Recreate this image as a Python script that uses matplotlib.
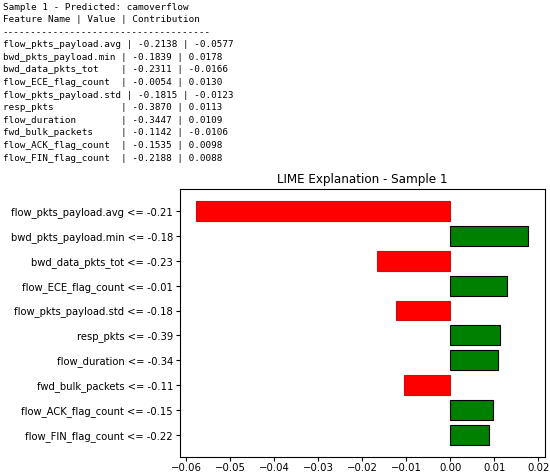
import matplotlib.pyplot as plt

# LIME output for sample 1
features = ['flow_pkts_payload.avg', 'bwd_pkts_payload.min', 'bwd_data_pkts_tot',
            'flow_ECE_flag_count', 'flow_pkts_payload.std', 'resp_pkts',
            'flow_duration', 'fwd_bulk_packets', 'flow_ACK_flag_count',
            'flow_FIN_flag_count']
values = [-0.2138, -0.1839, -0.2311, -0.0054, -0.1815, -0.3870,
          -0.3447, -0.1142, -0.1535, -0.2188]
contributions = [-0.0577, 0.0178, -0.0166, 0.0130, -0.0123, 0.0113,
                 0.0109, -0.0106, 0.0098, 0.0088]
thresholds = [-0.21, -0.18, -0.23, -0.01, -0.18, -0.39, -0.34, -0.11, -0.15, -0.22]

fig = plt.figure(figsize=(5.5, 4.76), dpi=100)

# printed console output on top
lines = ['Sample 1 - Predicted: camoverflow',
         'Feature Name | Value | Contribution',
         '-' * 37]
for name, v, c in zip(features, values, contributions):
    lines.append(f'{name:<20} | {v:.4f} | {c:.4f}')
y0 = 1 - 7 / 476
for i, line in enumerate(lines):
    fig.text(0.005, y0 - i * 12.6 / 476, line, family='DejaVu Sans Mono',
             fontsize=6.7, va='center', ha='left')

ax = fig.add_axes([0.327, 0.040, 0.664, 0.563])
labels = [f'{f} <= {t:.2f}' for f, t in zip(features, thresholds)]
pos = list(range(len(features)))[::-1]
colors = ['green' if c > 0 else 'red' for c in contributions]
edges = ['black' if c > 0 else '#c81010' for c in contributions]
ax.barh(pos, contributions, color=colors, edgecolor=edges, linewidth=0.8, height=0.8)
ax.set_yticks(pos)
ax.set_yticklabels(labels, fontsize=8.0, fontstretch='condensed')
ax.tick_params(axis='y', length=3, pad=2)
ax.tick_params(axis='x', length=3, pad=1, labelsize=7.3)
ax.set_title('LIME Explanation - Sample 1', fontsize=9.5, fontstretch='condensed', pad=4)

fig.savefig('out.png', dpi=100)
